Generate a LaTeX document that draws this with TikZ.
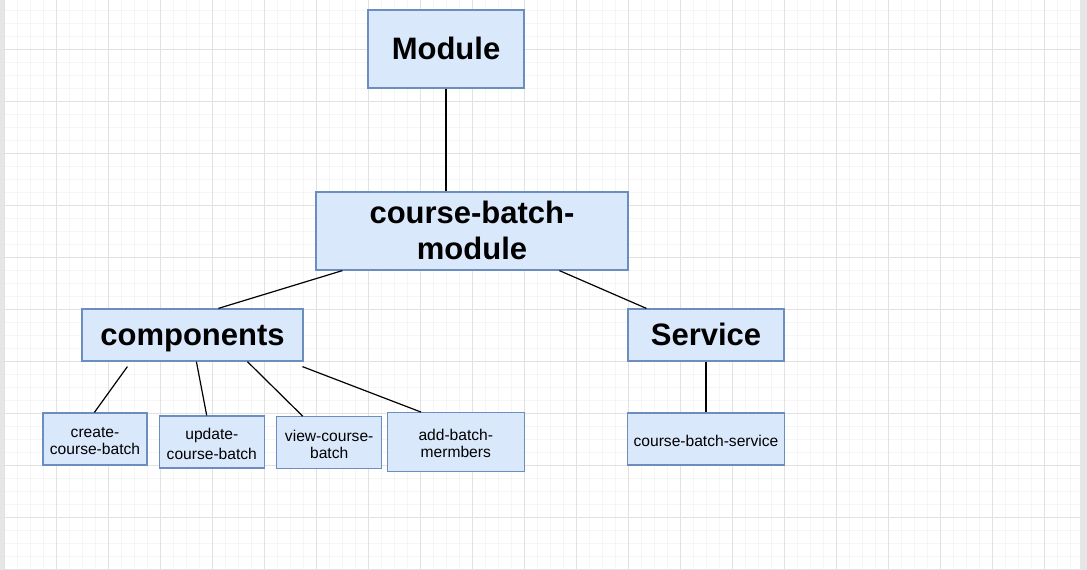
\documentclass[tikz,border=0pt]{standalone}
\usepackage{fontspec}
\setmainfont{Liberation Sans}
\usetikzlibrary{calc}
\definecolor{boxfill}{HTML}{DAE8FC}
\definecolor{boxline}{HTML}{6C8EBF}
\definecolor{gridmajor}{HTML}{E2E2E2}
\definecolor{gridminor}{HTML}{F5F5F5}
\definecolor{sidebar}{HTML}{E6E6E6}
\newcommand{\bigstrut}{\rule[-8pt]{0pt}{36.7pt}}
\newcommand{\smstrut}{\rule[-1.5pt]{0pt}{17.3pt}}
\tikzset{
  box/.style={draw=boxline, fill=boxfill, line width=1.2pt, inner sep=0pt, align=center, rectangle},
  bigbox/.style={box, font=\fontsize{31}{36.7}\selectfont\bfseries},
  smallbox/.style={box, font=\fontsize{15.6}{17.3}\selectfont},
  link/.style={draw=black, line width=1.2pt}
}
\begin{document}
\begin{tikzpicture}[x=1pt, y=-1pt]
\useasboundingbox (0,0) rectangle (1087,570);
\fill[white] (0,0) rectangle (1087,570);
% grid
\foreach \i in {0,...,82} {
  \draw[gridminor, line width=0.8pt] ({4.3+13*\i},0) -- ({4.3+13*\i},569);
}
\foreach \i in {0,...,43} {
  \draw[gridminor, line width=0.8pt] (4,{10.3+13*\i}) -- (1080,{10.3+13*\i});
}
\foreach \i in {0,...,20} {
  \draw[gridmajor, line width=0.8pt] ({4.3+52*\i},0) -- ({4.3+52*\i},569);
}
\foreach \i in {0,...,10} {
  \draw[gridmajor, line width=0.8pt] (4,{49.3+52*\i}) -- (1080,{49.3+52*\i});
}
\fill[sidebar] (0,0) rectangle (4,570);
\fill[sidebar] (1080,0) rectangle (1087,570);

% nodes
\node[bigbox, minimum width=156pt, minimum height=78pt] (mod) at (446,49) {\bigstrut Module};
\node[bigbox, minimum width=312pt, minimum height=78pt] (cbm) at (472,231) {\bigstrut course-batch-\\\bigstrut module};
\node[bigbox, minimum width=221pt, minimum height=52pt] (comp) at (192.5,335) {\bigstrut components};
\node[bigbox, minimum width=156pt, minimum height=52pt] (serv) at (706,335) {\bigstrut Service};
\node[smallbox, minimum width=104pt, minimum height=52pt] (create) at (95,439) {\smstrut create-\\\smstrut course-batch};
\node[smallbox, minimum width=105pt, minimum height=52pt] (update) at (211.8,442) {\smstrut update-\\\smstrut course-batch};
\node[smallbox, minimum width=105pt, minimum height=52pt] (view) at (329.2,442.8) {\smstrut view-course-\\\smstrut batch};
\node[smallbox, minimum width=137pt, minimum height=58.6pt] (add) at (455.8,442) {\smstrut add-batch-\\\smstrut mermbers};
\node[smallbox, minimum width=156.6pt, minimum height=52pt] (cbs) at (706,439) {\smstrut course-batch-service};

% connectors
\draw[link] (mod.south) -- (mod.south |- cbm.north);
\draw[link] ($(cbm.south west)+(27,0)$) -- ($(comp.north west)+(137,0)$);
\draw[link] ($(cbm.south west)+(244,0)$) -- ($(serv.north west)+(19,0)$);
\draw[link] ($(comp.south west)+(46,5)$) -- ($(create.north west)+(52,0)$);
\draw[link] ($(comp.south west)+(115,0)$) -- ($(update.north west)+(48,0)$);
\draw[link] ($(comp.south west)+(166,0)$) -- ($(view.north west)+(26.6,0)$);
\draw[link] ($(comp.south west)+(221,5)$) -- ($(add.north west)+(34.4,0)$);
\draw[link] (serv.south) -- (cbs.north);
\end{tikzpicture}
\end{document}
